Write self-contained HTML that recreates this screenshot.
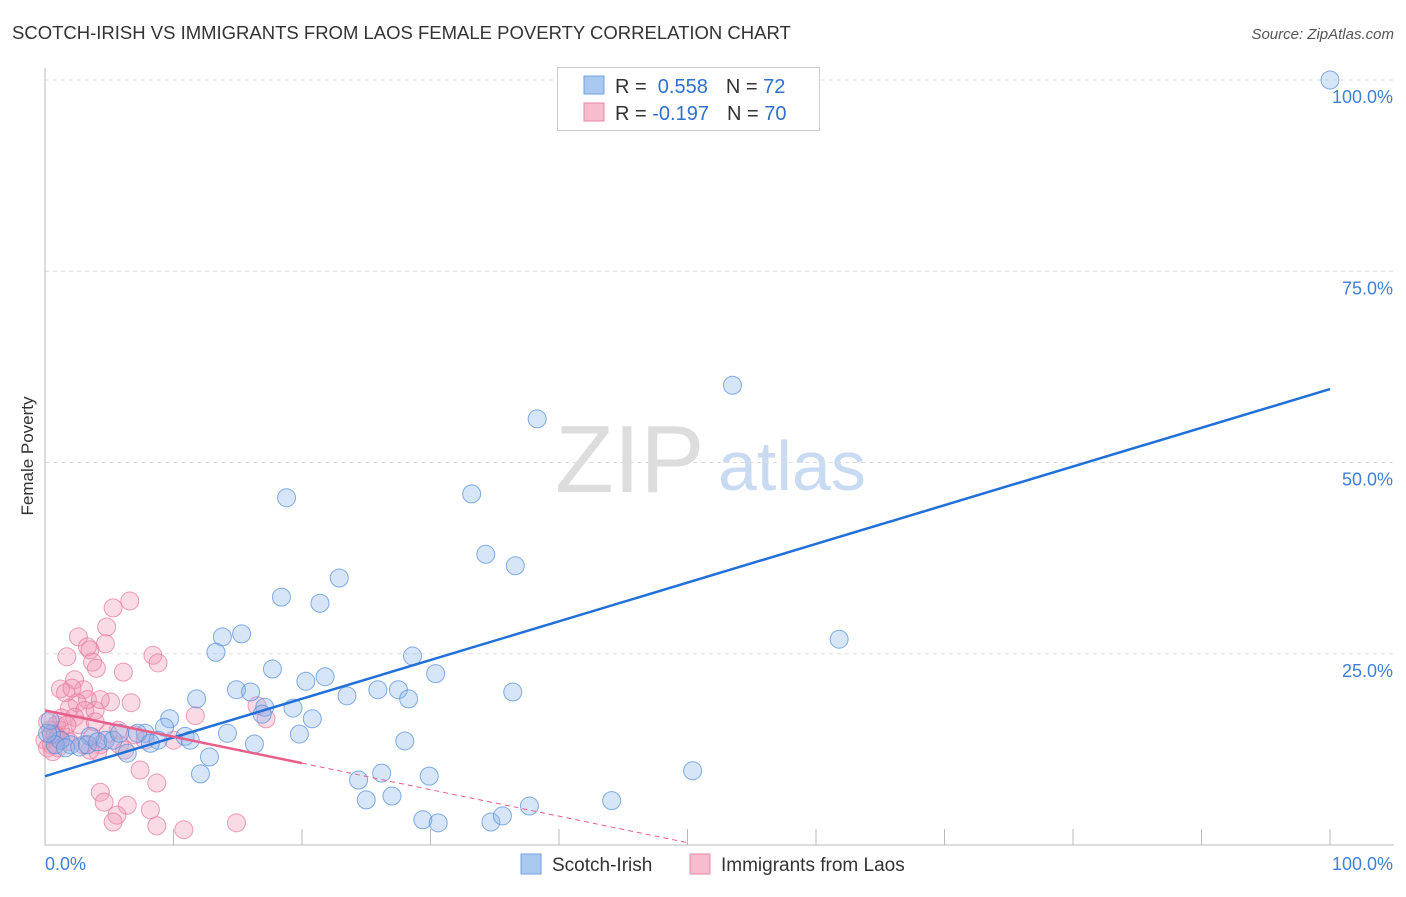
<!DOCTYPE html>
<html><head><meta charset="utf-8"><style>
body{margin:0;background:#fff;font-family:"Liberation Sans",sans-serif}
svg text{font-family:"Liberation Sans",sans-serif}
</style></head><body>
<svg id="chart" width="1406" height="892" viewBox="0 0 1406 892">
<text x="12" y="39" font-size="18.5" fill="#333">SCOTCH-IRISH VS IMMIGRANTS FROM LAOS FEMALE POVERTY CORRELATION CHART</text>
<text x="1394" y="39" font-size="15" fill="#555" font-style="italic" text-anchor="end">Source: ZipAtlas.com</text>
<text x="555" y="492" font-size="96" font-family="Liberation Serif,serif" fill="#ddd">ZIP</text>
<text x="718" y="490" font-size="70" fill="#c9dbf3">atlas</text>
<text transform="translate(33,456) rotate(-90)" font-size="17" fill="#333" text-anchor="middle">Female Poverty</text>
<g id="grid"></g><g id="pts"></g><g id="lines"></g>
<g>
<rect x="557.5" y="67.5" width="262" height="63" fill="#fff" stroke="#ccc"/>
<rect x="584" y="76" width="20" height="18" fill="#a9c8f0" stroke="#6fa0e0"/>
<rect x="584" y="103" width="20" height="18" fill="#f7bccd" stroke="#e887a6"/>
<text x="615" y="93" font-size="20" fill="#333">R = <tspan fill="#2f6fd0">&#160;0.558</tspan><tspan dx="18">N = </tspan><tspan fill="#2f6fd0">72</tspan></text>
<text x="615" y="120" font-size="20" fill="#333">R = <tspan fill="#2f6fd0">-0.197</tspan><tspan dx="18">N = </tspan><tspan fill="#2f6fd0">70</tspan></text>
</g>
<g>
<rect x="521" y="854" width="20" height="20" fill="#a9c8f0" stroke="#6fa0e0"/>
<text x="552" y="871" font-size="19" fill="#333">Scotch-Irish</text>
<rect x="690" y="854" width="20" height="20" fill="#f7bccd" stroke="#e887a6"/>
<text x="721" y="871" font-size="19" fill="#333">Immigrants from Laos</text>
</g>
</svg>
<script>
const yTicks=[100,75,50,25];
const blueX=[100,53.5,38.3,18.8,33.2,34.3,36.6,22.9,18.4,21.4,61.8,15.3,13.8,13.3,28.6,17.7,30.4,21.8,20.3,14.9,16.0,25.9,27.5,23.5,36.4,28.3,11.8,17.1,19.3,20.8,9.7,16.9,14.2,19.8,28.0,16.3,10.9,11.3,9.3,7.8,7.2,8.8,8.2,6.4,4.7,3.5,12.8,26.2,24.4,12.1,29.9,50.4,25.0,27.0,44.1,37.7,29.4,30.6,34.7,35.6,2.0,1.2,0.5,0.8,0.2,1.6,2.7,3.3,4.1,5.3,5.8,0.4];
const blueY=[100,60.1,55.7,45.4,45.9,38.0,36.5,34.9,32.4,31.6,26.9,27.6,27.2,25.2,24.7,23.0,22.4,22.0,21.4,20.3,20.0,20.3,20.3,19.5,20.0,19.1,19.1,18.0,17.9,16.5,16.5,17.1,14.6,14.5,13.6,13.2,14.2,13.7,15.4,14.6,14.6,13.7,13.3,12.0,13.7,14.2,11.5,9.4,8.5,9.3,9.0,9.7,5.9,6.4,5.8,5.1,3.3,2.9,3.0,3.8,13.1,13.7,14.5,13.1,14.6,12.7,12.8,13.1,13.5,13.7,14.6,16.3];
const pinkX=[6.6,5.3,4.8,2.6,4.7,3.3,3.5,1.7,8.4,8.8,3.7,4.0,6.1,2.3,1.2,3.0,1.6,5.1,6.7,3.3,2.5,1.9,3.1,3.9,11.7,16.5,17.2,5.7,0.9,1.2,0.4,0,0.5,1.0,1.6,1.9,3.7,4.3,5.8,6.2,4.1,10.0,7.4,8.7,4.3,4.6,6.4,8.2,5.6,5.3,8.7,10.8,14.9,0.2,0.8,1.3,2.3,2.7,3.5,4.9,0.6,1.7,2.1,4.3,1.0,0.2,7.0,7.8,3.0,3.9];
const pinkY=[31.9,31.0,28.5,27.2,26.3,25.9,25.5,24.6,24.8,23.8,23.9,23.1,22.6,21.6,20.4,20.3,19.9,18.7,18.6,19.0,18.6,17.9,17.6,17.6,16.9,18.2,16.5,15.0,15.7,15.0,15.0,13.7,13.1,12.7,14.1,13.5,14.1,13.1,13.1,12.4,12.2,13.7,9.8,8.1,6.9,5.6,5.2,4.6,3.9,3.0,2.5,2.0,2.9,12.7,14.4,16.6,16.7,15.7,12.4,14.6,12.2,15.7,20.5,19.0,14.0,16.1,14.4,13.7,13.1,16.1];
const blueTrend=[0,9.0,100,59.6];
const pinkTrend=[0,17.6,20,10.7,50,0.3];
const X=v=>45+v*12.85, Y=v=>845-v*7.65;
const NS="http://www.w3.org/2000/svg";
function mk(t,a,p){const e=document.createElementNS(NS,t);for(const k in a)e.setAttribute(k,a[k]);p.appendChild(e);return e;}
const grid=document.getElementById('grid');
for(const t of yTicks){
 const l=mk('line',{x1:45,x2:1394,y1:Y(t),y2:Y(t),stroke:'#ddd','stroke-dasharray':'4,4'},grid);
 
 
 const tx=mk('text',{x:1393,y:Y(t)+23,'font-size':18,fill:'#3f7fd8','text-anchor':'end'},grid);
 tx.textContent=t.toFixed(1)+'%';
 
 
}
const ax=mk('path',{d:'M45 68V845H1394',stroke:'#bbb',fill:'none'},grid);


for(let i=1;i<=10;i++){const t=mk('line',{x1:X(i*10),x2:X(i*10),y1:829,y2:845,stroke:'#bbb'},grid);
 
 }
const xl=[['0.0%',45,'start'],['100.0%',1393,'end']];
for(const [s,x,a] of xl){const t=mk('text',{x:x,y:870,'font-size':18,fill:'#3f7fd8','text-anchor':a},grid);t.textContent=s;
 
 }
const pts=document.getElementById('pts');
pinkX.forEach((v,i)=>{const c=mk('circle',{cx:X(v),cy:Y(pinkY[i]),r:9,fill:'rgba(240,150,180,0.35)',stroke:'rgba(228,120,155,0.7)'},pts);
 
 });
blueX.forEach((v,i)=>{const c=mk('circle',{cx:X(v),cy:Y(blueY[i]),r:9,fill:'rgba(140,180,235,0.35)',stroke:'rgba(80,140,220,0.7)'},pts);
 
 });
const lines=document.getElementById('lines');
const bl=mk('line',{x1:X(blueTrend[0]),y1:Y(blueTrend[1]),x2:X(blueTrend[2]),y2:Y(blueTrend[3]),stroke:'#2070d8','stroke-width':2.5},lines);


const pl=mk('line',{x1:X(pinkTrend[0]),y1:Y(pinkTrend[1]),x2:X(pinkTrend[2]),y2:Y(pinkTrend[3]),stroke:'#e8608a','stroke-width':2.5},lines);


const pd=mk('line',{x1:X(pinkTrend[2]),y1:Y(pinkTrend[3]),x2:X(pinkTrend[4]),y2:Y(pinkTrend[5]),stroke:'#e8608a','stroke-width':1,'stroke-dasharray':'5,4'},lines);


</script>
</body></html>
